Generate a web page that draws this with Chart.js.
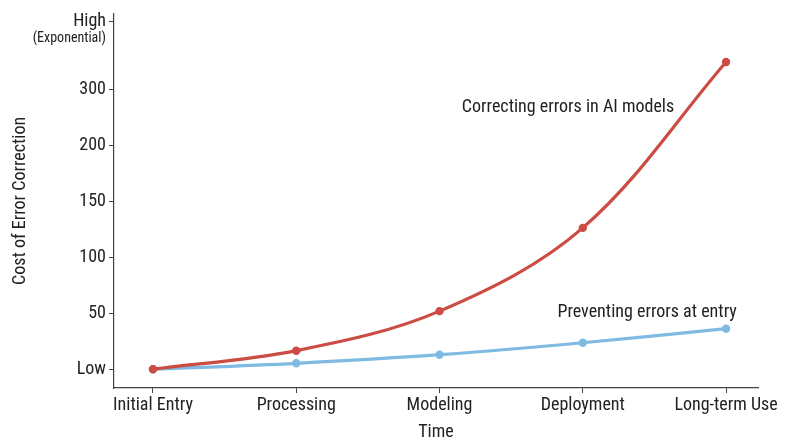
<!DOCTYPE html>
<html>
<head>
<meta charset="utf-8">
<script src="https://cdn.jsdelivr.net/npm/chart.js@4.4.1/dist/chart.umd.min.js"></script>
<style>
  html, body { margin: 0; padding: 0; background: #fff; }
  #wrap { width: 800px; height: 447px; position: relative; }
</style>
</head>
<body>
<div id="wrap"><canvas id="cost-chart"></canvas></div>
<script>
const stages = ['Initial Entry', 'Processing', 'Modeling', 'Deployment', 'Long-term Use'];
const correcting = [0, 16.6, 52, 126.5, 275];
const preventing = [0, 5.3, 13, 23.7, 36.3];
const yTickValues = [0, 50, 100, 150, 200, 250, 311];
const yTickLabels = ['Low', '50', '100', '150', '200', '300', 'High'];

const FONT = "'Roboto Condensed', 'Liberation Sans Narrow', 'Arial Narrow', Roboto, sans-serif";
const RED = 'rgb(204, 75, 67)';
const BLUE = 'rgb(126, 186, 226)';

const labelsPlugin = {
  id: 'labels',
  afterDraw(chart) {
    const ctx = chart.ctx;
    const x = chart.scales.x, y = chart.scales.y;
    ctx.save();
    ctx.fillStyle = '#222';
    ctx.textAlign = 'center';
    ctx.textBaseline = 'middle';
    ctx.font = '18px ' + FONT;
    ctx.fillText('Correcting errors in AI models', x.getPixelForValue(2.897), y.getPixelForValue(234));
    ctx.fillText('Preventing errors at entry', x.getPixelForValue(3.449), y.getPixelForValue(50.5));
    // second line under "High"
    ctx.textAlign = 'right';
    ctx.font = '14px ' + FONT;
    ctx.fillText('(Exponential)', y.right - 8, y.getPixelForValue(311) + 17);
    ctx.restore();
  }
};

const ctx = document.getElementById('cost-chart').getContext('2d');
new Chart(ctx, {
  type: 'line',
  data: {
    datasets: [{
      label: 'Correcting errors in AI models',
      data: correcting.map((v, i) => ({ x: i, y: v })),
      borderColor: RED,
      backgroundColor: RED,
      borderWidth: 3.2,
      pointRadius: 2.6,
      tension: 0.35
    }, {
      label: 'Preventing errors at entry',
      data: preventing.map((v, i) => ({ x: i, y: v })),
      borderColor: BLUE,
      backgroundColor: BLUE,
      borderWidth: 3.2,
      pointRadius: 2.6,
      tension: 0.35
    }]
  },
  options: {
    responsive: true,
    maintainAspectRatio: false,
    animation: false,
    layout: { padding: { top: 10, right: 42, left: 0, bottom: 0 } },
    plugins: {
      legend: { display: false },
      tooltip: { enabled: false }
    },
    scales: {
      x: {
        type: 'linear',
        min: -0.272,
        max: 4.223,
        afterBuildTicks: (scale) => { scale.ticks = stages.map((s, i) => ({ value: i })); },
        afterFit: (scale) => { scale.height = 59; },
        ticks: {
          color: '#222',
          font: { family: FONT, size: 18 },
          padding: 2,
          maxRotation: 0,
          callback: (v) => stages[v]
        },
        grid: { drawOnChartArea: false, drawTicks: true, tickLength: 5, color: '#444' },
        border: { display: true, color: '#444', width: 1.2 },
        title: {
          display: true,
          text: 'Time',
          color: '#222',
          font: { family: FONT, size: 18 },
          padding: { top: 2, bottom: 4 }
        }
      },
      y: {
        min: -16.8,
        max: 318.1,
        afterBuildTicks: (scale) => { scale.ticks = yTickValues.map(v => ({ value: v })); },
        afterFit: (scale) => { scale.width = 114; },
        ticks: {
          color: '#222',
          font: { family: FONT, size: 18 },
          padding: 3,
          callback: (v) => yTickLabels[yTickValues.indexOf(v)]
        },
        grid: { drawOnChartArea: false, drawTicks: true, tickLength: 5, color: '#444' },
        border: { display: true, color: '#444', width: 1.2 },
        title: {
          display: true,
          text: 'Cost of Error Correction',
          color: '#222',
          font: { family: FONT, size: 18 },
          padding: { top: 10, bottom: 0 }
        }
      }
    }
  },
  plugins: [labelsPlugin]
});
</script>
</body>
</html>
